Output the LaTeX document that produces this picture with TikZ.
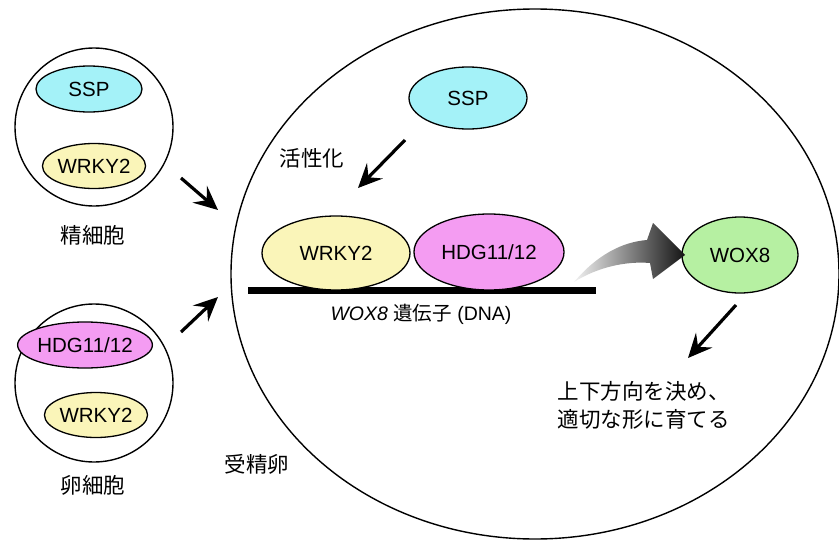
\documentclass[tikz,border=0pt]{standalone}
\usepackage{fontspec}
\setmainfont{Liberation Sans}
\newfontfamily\jp{Noto Sans CJK JP}
\usetikzlibrary{arrows.meta,shapes.geometric}

\definecolor{sspfill}{HTML}{A4F2F8}
\definecolor{wrkyfill}{HTML}{FAF5B9}
\definecolor{hdgfill}{HTML}{F49CF2}
\definecolor{woxfill}{HTML}{B6F0A2}

\tikzset{
  cellwall/.style={draw, line width=1.4pt},
  prot/.style={ellipse, draw, line width=1.3pt, inner sep=0pt,
    font=\fontsize{20.5}{23}\selectfont},
  ssp/.style={prot, fill=sspfill},
  wrky/.style={prot, fill=wrkyfill},
  hdg/.style={prot, fill=hdgfill},
  wox/.style={prot, fill=woxfill},
  jtext/.style={font=\jp\fontsize{21.5}{28}\selectfont},
  push/.style={line width=3.2pt, -{Stealth[length=24pt,width=22pt,inset=9pt]}},
}

\begin{document}
\begin{tikzpicture}[x=1pt,y=-1pt]
\useasboundingbox (0,0) rectangle (839,541);

% sperm cell
\node[cellwall, circle, minimum size=158pt] (sperm) at (94,127) {};
\node[ssp, minimum width=106pt, minimum height=46pt] (sspS) at (89,89) {SSP};
\node[wrky, minimum width=100pt, minimum height=45pt] (wrkyS) at (94,166) {WRKY2};
\node[jtext] (spermlbl) at (93,235) {精細胞};

% egg cell
\node[cellwall, circle, minimum size=158pt] (egg) at (94,383) {};
\node[hdg, minimum width=104pt, minimum height=46pt] (hdgE) at (85,345) {HDG11/12};
\node[wrky, minimum width=98pt, minimum height=45pt] (wrkyE) at (96,415) {WRKY2};
\node[jtext] (egglbl) at (93,485) {卵細胞};

% zygote
\node[cellwall, ellipse, minimum width=608pt, minimum height=530pt] (zyg) at (535,274) {};
\node[jtext] (zyglbl) at (257,464) {受精卵};

% both gametes feed into the zygote
\coordinate (spermOut) at (181,178);
\coordinate (zygInA) at (218,210);
\coordinate (eggOut) at (181,332);
\coordinate (zygInB) at (218,297);
\draw[push] (spermOut) -- (zygInA);
\draw[push] (eggOut) -- (zygInB);

% SSP activates WRKY2 on the WOX8 gene
\node[ssp, minimum width=118pt, minimum height=62pt] (sspZ) at (468,98) {SSP};
\node[jtext] (actlbl) at (312,158) {活性化};
\draw[line width=7pt] (248,290) -- (596,290) coordinate[pos=0.5] (dnamid);
\node[wrky, minimum width=148pt, minimum height=74pt] (wrkyZ) at (336,253) {WRKY2};
\node[hdg, minimum width=150pt, minimum height=76pt] (hdgZ) at (489,252) {HDG11/12};
\node[font=\fontsize{19.5}{22}\selectfont] (genelbl) at (421,314)
  {\textit{WOX8} {\jp 遺伝子} (DNA)};
\coordinate (actFrom) at (405,140);
\coordinate (actTo) at (358,188);
\draw[push] (actFrom) -- (actTo);

% expression of WOX8
\node[wox, minimum width=116pt, minimum height=76pt] (woxZ) at (740,255) {WOX8};
\shade[left color=black!5, right color=black!92]
  (574,282) .. controls (597,255) and (622,242) .. (647,240)
  -- (653,223) -- (685,255) -- (653,279) -- (650,263)
  .. controls (626,261) and (598,267) .. (574,282) -- cycle;

% WOX8 function
\coordinate (woxFrom) at (736,305);
\coordinate (woxTo) at (688,358);
\draw[push] (woxFrom) -- (woxTo);
\node[jtext, align=left, anchor=north west] (fatelbl) at (554,378)
  {上下方向を決め、\\適切な形に育てる};
\end{tikzpicture}
\end{document}
